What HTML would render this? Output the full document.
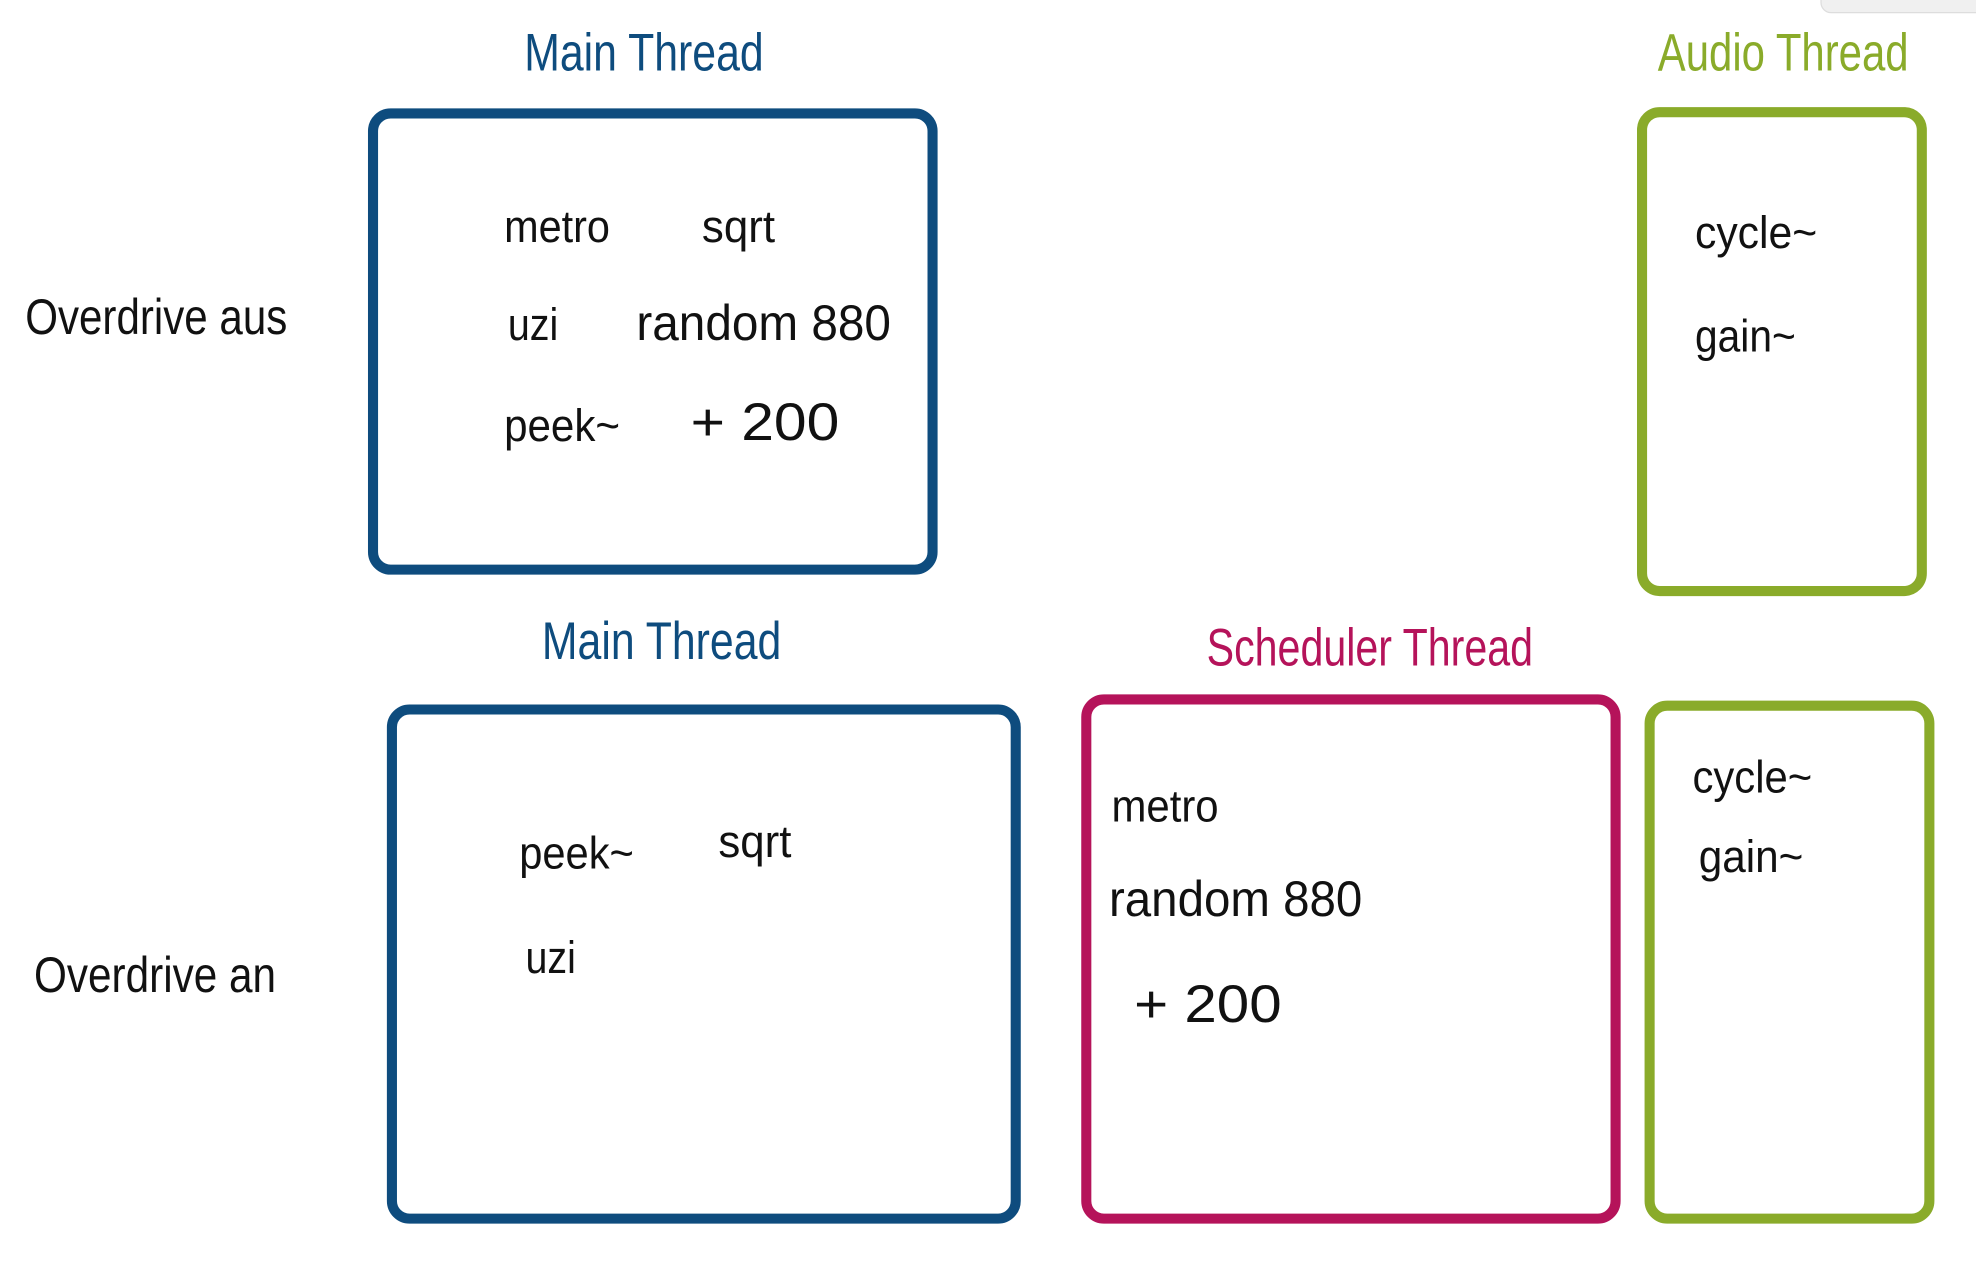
<!DOCTYPE html>
<html>
<head>
<meta charset="utf-8">
<style>
  html,body{margin:0;padding:0;background:#fff;width:1976px;height:1266px;overflow:hidden;}
  svg text{font-family:"Liberation Sans Narrow","Liberation Sans",sans-serif;}
</style>
</head>
<body>
<svg width="1976" height="1266" viewBox="0 0 1568 1004.6" preserveAspectRatio="none">
  <rect x="1445" y="-10" width="140" height="20" rx="8" fill="#f0f0f0" stroke="#dddddd"/>

  <!-- Row labels -->
  <text x="20" y="265" font-size="40" fill="#111" textLength="208" lengthAdjust="spacingAndGlyphs">Overdrive aus</text>
  <text x="27" y="787" font-size="40" fill="#111" textLength="192" lengthAdjust="spacingAndGlyphs">Overdrive an</text>

  <!-- Top: Main Thread -->
  <text x="511" y="56" font-size="42" fill="#0e4c7e" text-anchor="middle" textLength="190" lengthAdjust="spacingAndGlyphs">Main Thread</text>
  <rect x="296" y="90" width="444" height="362" rx="14" fill="none" stroke="#0e4c7e" stroke-width="8"/>
  <g font-size="36" fill="#111">
    <text x="400" y="192" textLength="84" lengthAdjust="spacingAndGlyphs">metro</text>
    <text x="557" y="192" textLength="58" lengthAdjust="spacingAndGlyphs">sqrt</text>
    <text x="403" y="270" textLength="40" lengthAdjust="spacingAndGlyphs">uzi</text>
    <text x="505" y="270" font-size="40" textLength="202" lengthAdjust="spacingAndGlyphs">random 880</text>
    <text x="400" y="350" textLength="92" lengthAdjust="spacingAndGlyphs">peek~</text>
    <text x="548" y="349" font-size="42" textLength="118" lengthAdjust="spacingAndGlyphs">+ 200</text>
  </g>

  <!-- Top: Audio Thread -->
  <text x="1415" y="56" font-size="42" fill="#8aab2a" text-anchor="middle" textLength="199" lengthAdjust="spacingAndGlyphs">Audio Thread</text>
  <rect x="1303" y="89" width="222" height="380" rx="14" fill="none" stroke="#8aab2a" stroke-width="8"/>
  <g font-size="36" fill="#111">
    <text x="1345" y="197" textLength="97" lengthAdjust="spacingAndGlyphs">cycle~</text>
    <text x="1345" y="279" textLength="80" lengthAdjust="spacingAndGlyphs">gain~</text>
  </g>

  <!-- Bottom: Main Thread -->
  <text x="525" y="523" font-size="42" fill="#0e4c7e" text-anchor="middle" textLength="190" lengthAdjust="spacingAndGlyphs">Main Thread</text>
  <rect x="311" y="563" width="495" height="404" rx="14" fill="none" stroke="#0e4c7e" stroke-width="8"/>
  <g font-size="36" fill="#111">
    <text x="412" y="689" textLength="91" lengthAdjust="spacingAndGlyphs">peek~</text>
    <text x="570" y="680" textLength="58" lengthAdjust="spacingAndGlyphs">sqrt</text>
    <text x="417" y="772" textLength="40" lengthAdjust="spacingAndGlyphs">uzi</text>
  </g>

  <!-- Bottom: Scheduler Thread -->
  <text x="1087" y="528" font-size="42" fill="#b5135a" text-anchor="middle" textLength="259" lengthAdjust="spacingAndGlyphs">Scheduler Thread</text>
  <rect x="862" y="555" width="420" height="412" rx="14" fill="none" stroke="#b5135a" stroke-width="8"/>
  <g font-size="36" fill="#111">
    <text x="882" y="652" textLength="85" lengthAdjust="spacingAndGlyphs">metro</text>
    <text x="880" y="727" font-size="40" textLength="201" lengthAdjust="spacingAndGlyphs">random 880</text>
    <text x="900" y="811" font-size="42" textLength="117" lengthAdjust="spacingAndGlyphs">+ 200</text>
  </g>

  <!-- Bottom: Audio Thread box -->
  <rect x="1309" y="560" width="222" height="407" rx="14" fill="none" stroke="#8aab2a" stroke-width="8"/>
  <g font-size="36" fill="#111">
    <text x="1343" y="629" textLength="95" lengthAdjust="spacingAndGlyphs">cycle~</text>
    <text x="1348" y="692" textLength="83" lengthAdjust="spacingAndGlyphs">gain~</text>
  </g>
</svg>
</body>
</html>
